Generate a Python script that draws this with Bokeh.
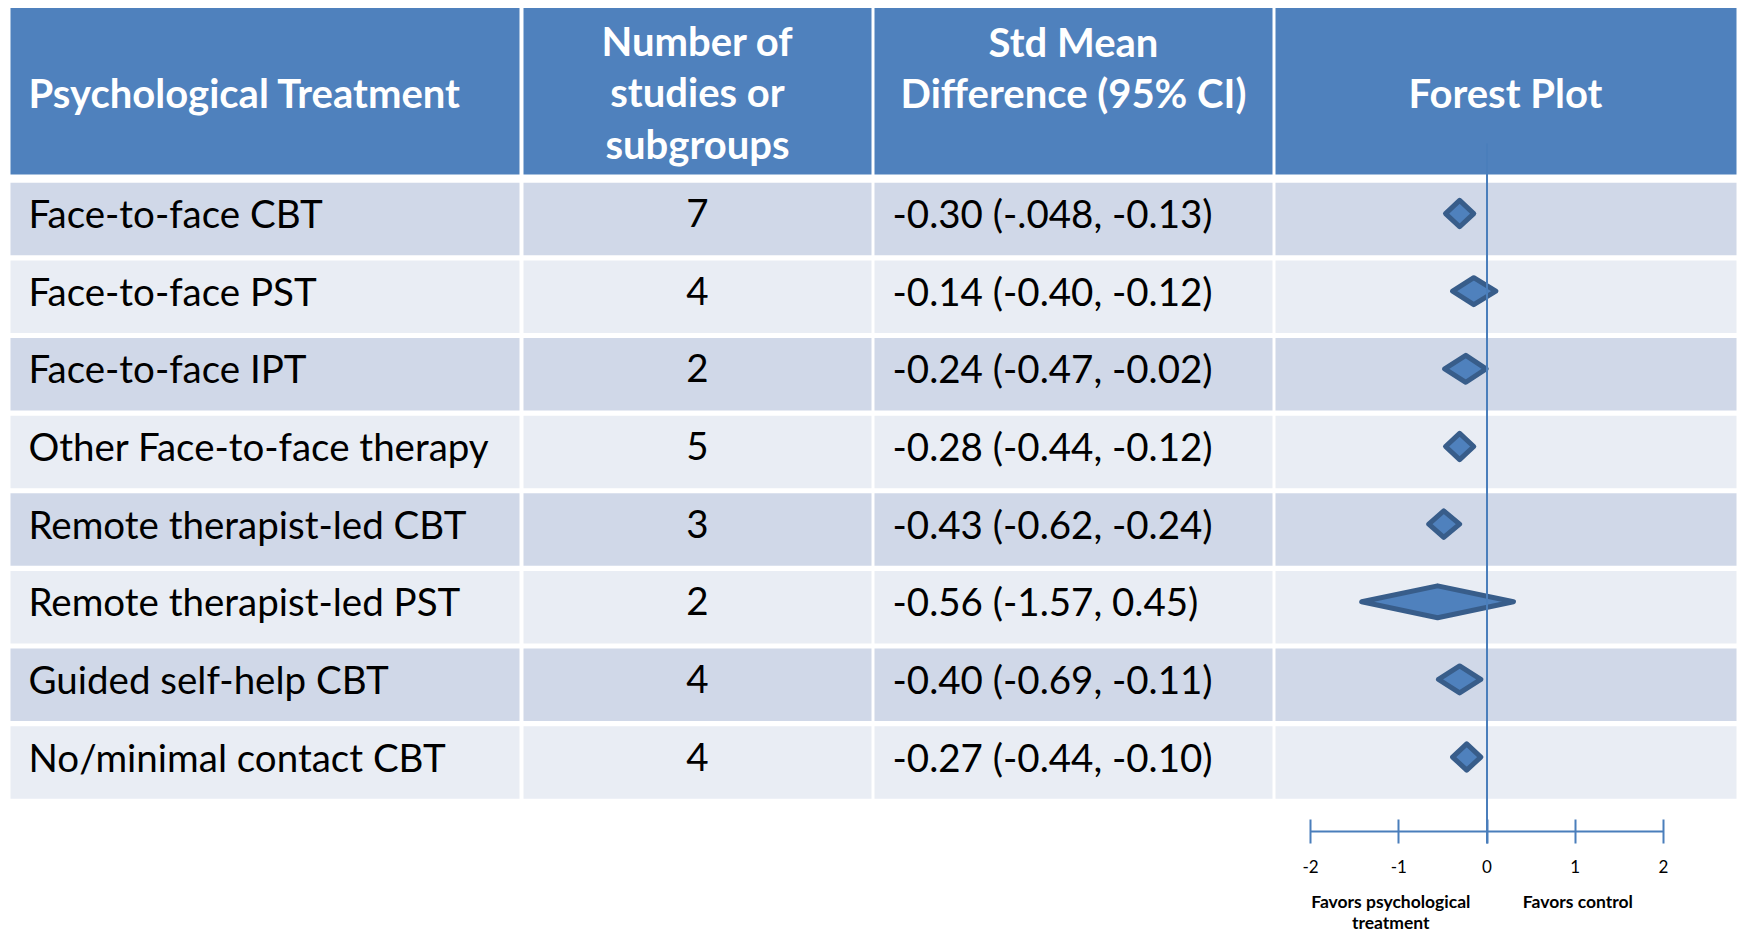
from bokeh.plotting import figure
from bokeh.models import Range1d, LinearAxis, FixedTicker
from bokeh.core.properties import value
from bokeh.embed import file_html
from bokeh.resources import INLINE

# ---------------- data ----------------
treatments = [
    "Face-to-face CBT",
    "Face-to-face PST",
    "Face-to-face IPT",
    "Other Face-to-face therapy",
    "Remote therapist-led CBT",
    "Remote therapist-led PST",
    "Guided self-help CBT",
    "No/minimal contact CBT",
]
n_studies = [7, 4, 2, 5, 3, 2, 4, 4]
smd_labels = [
    "-0.30 (-.048, -0.13)",
    "-0.14 (-0.40, -0.12)",
    "-0.24 (-0.47, -0.02)",
    "-0.28 (-0.44, -0.12)",
    "-0.43 (-0.62, -0.24)",
    "-0.56 (-1.57, 0.45)",
    "-0.40 (-0.69, -0.11)",
    "-0.27 (-0.44, -0.10)",
]
# diamond extents as drawn in the forest plot (SMD units)
diamond_mid = [-0.31, -0.15, -0.24, -0.31, -0.49, -0.56, -0.31, -0.23]
diamond_low = [-0.47, -0.39, -0.48, -0.47, -0.66, -1.42, -0.55, -0.39]
diamond_high = [-0.15, 0.10, -0.01, -0.15, -0.31, 0.30, -0.07, -0.07]

headers = ["Psychological Treatment", "Number of\nstudies or\nsubgroups",
           "Std Mean\nDifference (95% CI)", "Forest Plot"]
axis_ticks = [-2, -1, 0, 1, 2]
favor_labels = ["Favors psychological\ntreatment", "Favors control"]

# ---------------- layout / style ----------------
W, H = 1737, 932
PITCH = 77.64          # px per table row
ROW0 = 218.5           # px of first row centre
FONT = value("Lato")
HEAD_BLUE = "#4F81BD"
ROW_DARK = "#D0D8E8"
ROW_LIGHT = "#E9EDF4"
LINE_BLUE = "#4A7EBB"
EDGE_BLUE = "#385D8A"
TEXT_DY = -0.075       # optical centring of body text

def ry(px):
    return (px - ROW0) / PITCH

COL_L = [10, 523, 874, 1275]
COL_R = [519, 871, 1272, 1736]

# SMD scale: -2 at px 1310, 2 at px 1663
unit = (1663 - 1310) / 4.0
smd_start = -2 - 1310 / unit
smd_end = 2 + (W - 1663) / unit

p = figure(width=W, height=H, output_backend="svg", toolbar_location=None,
           x_range=Range1d(0, W), y_range=Range1d(ry(H), ry(0)),
           x_axis_location=None, y_axis_location=None,
           min_border=0, outline_line_color=None,
           background_fill_color="white", border_fill_color="white")
p.min_border_left = p.min_border_right = p.min_border_top = p.min_border_bottom = 0
p.xgrid.visible = False
p.ygrid.visible = False
p.extra_x_ranges = {"smd": Range1d(smd_start, smd_end)}

# header cells
p.quad(left=COL_L, right=COL_R, top=[ry(7.5)] * 4, bottom=[ry(174)] * 4,
       fill_color=HEAD_BLUE, line_color=None)

# body cells
n = len(treatments)
lefts, rights, tops, bottoms, colors = [], [], [], [], []
for i in range(n):
    for c in range(4):
        lefts.append(COL_L[c]); rights.append(COL_R[c])
        tops.append(i - 0.467); bottoms.append(i + 0.467)
        colors.append(ROW_DARK if i % 2 == 0 else ROW_LIGHT)
p.quad(left=lefts, right=rights, top=tops, bottom=bottoms,
       fill_color=colors, line_color=None)

# header texts
head_common = dict(text_font=FONT, text_font_style="bold", text_color="white",
                   text_font_size="40px", text_baseline="middle", text_line_height=1.07)
p.text(x=[28], y=[ry(92)], text=[headers[0]], text_align="left", **head_common)
p.text(x=[(COL_L[1] + COL_R[1]) / 2], y=[ry(92)], text=[headers[1]], text_align="center", **head_common)
p.text(x=[(COL_L[2] + COL_R[2]) / 2], y=[ry(67)], text=[headers[2]], text_align="center", **head_common)
p.text(x=[1505], y=[ry(92)], text=[headers[3]], text_align="center", **head_common)

# body texts
rows = [i + TEXT_DY for i in range(n)]
body_common = dict(text_font=FONT, text_color="black", text_font_size="38.5px",
                   text_baseline="middle")
p.text(x=[28] * n, y=rows, text=treatments, text_align="left", **body_common)
p.text(x=[(COL_L[1] + COL_R[1]) / 2] * n, y=rows, text=[str(v) for v in n_studies],
       text_align="center", **body_common)
p.text(x=[892] * n, y=rows, text=smd_labels, text_align="left", **body_common)

# diamonds
xs, ys = [], []
for i in range(n):
    yc = i - 0.07
    h = (12.5 + 2.0 * (diamond_high[i] - diamond_low[i])) / PITCH
    xs.append([diamond_low[i], diamond_mid[i], diamond_high[i], diamond_mid[i]])
    ys.append([yc, yc - h, yc, yc + h])
p.patches(xs=xs, ys=ys, x_range_name="smd", fill_color=HEAD_BLUE,
          line_color=EDGE_BLUE, line_width=5, line_join="round")

# zero line
p.segment(x0=[0], y0=[ry(143)], x1=[0], y1=[ry(843)], x_range_name="smd",
          line_color=LINE_BLUE, line_width=2)

# forest axis
ax = LinearAxis(x_range_name="smd", fixed_location=ry(831), bounds=(-2, 2),
                ticker=FixedTicker(ticks=axis_ticks),
                axis_line_color=LINE_BLUE, axis_line_width=2,
                major_tick_line_color=LINE_BLUE, major_tick_line_width=2,
                major_tick_in=12, major_tick_out=12,
                minor_tick_line_color=None,
                major_label_text_font="Lato", major_label_text_font_size="17px",
                major_label_text_color="black", major_label_standoff=16,
                major_label_overrides={t: str(t) for t in axis_ticks})
p.add_layout(ax, "below")

# favour labels
p.text(x=[-1.09, 1.03], y=[ry(890)] * 2, text=favor_labels, x_range_name="smd",
       text_font=FONT, text_font_style="bold", text_font_size="17.5px",
       text_color="black", text_align="center", text_baseline="top",
       text_line_height=1.0)

open("out.html", "w").write(file_html(p, INLINE))
